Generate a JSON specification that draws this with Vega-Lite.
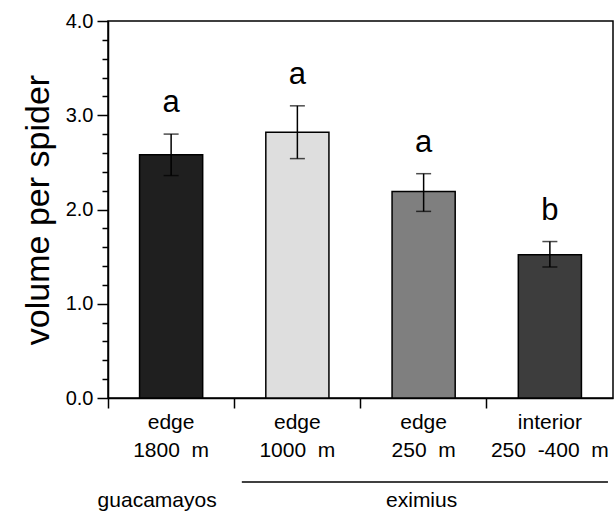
{
  "$schema": "https://vega.github.io/schema/vega-lite/v6.json",
  "autosize": {"type": "none"},
  "padding": {"left": 108, "top": 21, "right": 2, "bottom": 116},
  "width": 505,
  "height": 377,
  "config": {
    "font": "Liberation Sans",
    "view": {"stroke": "black", "strokeWidth": 1.5},
    "axis": {"grid": false, "domainColor": "black", "domainWidth": 1.5, "tickColor": "black", "tickWidth": 1.5, "labelColor": "black", "titleColor": "black", "labelOverlap": false}
  },
  "datasets": {
    "main": [
      {"site": "edge|1800\u00a0 m", "mean": 2.58, "lo": 2.36, "hi": 2.80, "letter": "a"},
      {"site": "edge|1000\u00a0 m", "mean": 2.82, "lo": 2.54, "hi": 3.10, "letter": "a"},
      {"site": "edge|250\u00a0 m", "mean": 2.19, "lo": 1.98, "hi": 2.38, "letter": "a"},
      {"site": "interior|250\u00a0 -400\u00a0 m", "mean": 1.52, "lo": 1.39, "hi": 1.66, "letter": "b"}
    ],
    "group1": [
      {"site": "edge|1800\u00a0 m", "group": "guacamayos"}
    ],
    "group2": [
      {"site": "edge|250\u00a0 m", "group": "eximius"}
    ],
    "span": [
      {"start": "edge|1000\u00a0 m", "end": "interior|250\u00a0 -400\u00a0 m"}
    ]
  },
  "resolve": {"axis": {"y": "independent"}},
  "layer": [
    {
      "data": {"name": "main"},
      "mark": {"type": "bar", "stroke": "black", "strokeWidth": 1.5, "width": {"band": 0.5}},
      "encoding": {
        "x": {
          "field": "site", "type": "nominal", "sort": null,
          "scale": {"paddingInner": 0, "paddingOuter": 0},
          "axis": {
            "title": null, "labelAngle": 0, "bandPosition": 0,
            "tickSize": 10, "labelFontSize": 21, "labelLineHeight": 28,
            "labelPadding": 3, "labelExpr": "split(datum.label, '|')"
          }
        },
        "y": {
          "field": "mean", "type": "quantitative",
          "scale": {"domain": [0, 4], "nice": false},
          "axis": {
            "orient": "left",
            "title": "volume per spider", "titleFontSize": 34, "titleFontWeight": "normal", "titlePadding": 10,
            "values": [0, 1, 2, 3, 4], "format": ".1f",
            "tickSize": 11, "labelFontSize": 20, "labelPadding": 4
          }
        },
        "color": {
          "field": "site", "type": "nominal", "sort": null, "legend": null,
          "scale": {"range": ["#1f1f1f", "#dedede", "#7f7f7f", "#3d3d3d"]}
        }
      }
    },
    {
      "data": {"name": "main"},
      "mark": {"type": "rule", "color": "black", "strokeWidth": 1.5},
      "encoding": {
        "x": {"field": "site", "type": "nominal", "sort": null},
        "y": {
          "field": "lo", "type": "quantitative",
          "axis": {
            "orient": "left", "title": null, "labels": false, "domain": false,
            "values": [0.2, 0.4, 0.6, 0.8, 1.2, 1.4, 1.6, 1.8, 2.2, 2.4, 2.6, 2.8, 3.2, 3.4, 3.6, 3.8],
            "tickSize": 6
          }
        },
        "y2": {"field": "hi"}
      }
    },
    {
      "data": {"name": "main"},
      "mark": {"type": "tick", "orient": "horizontal", "size": 15, "thickness": 1.5, "color": "black"},
      "encoding": {
        "x": {"field": "site", "type": "nominal", "sort": null},
        "y": {"field": "lo", "type": "quantitative", "axis": null}
      }
    },
    {
      "data": {"name": "main"},
      "mark": {"type": "tick", "orient": "horizontal", "size": 15, "thickness": 1.5, "color": "black"},
      "encoding": {
        "x": {"field": "site", "type": "nominal", "sort": null},
        "y": {"field": "hi", "type": "quantitative", "axis": null}
      }
    },
    {
      "data": {"name": "main"},
      "mark": {"type": "text", "fontSize": 31, "baseline": "alphabetic", "dy": -22, "color": "black"},
      "encoding": {
        "x": {"field": "site", "type": "nominal", "sort": null},
        "y": {"field": "hi", "type": "quantitative", "axis": null},
        "text": {"field": "letter"}
      }
    },
    {
      "data": {"name": "group1"},
      "mark": {"type": "text", "fontSize": 21, "baseline": "alphabetic", "color": "black", "dx": -14},
      "encoding": {
        "x": {"field": "site", "type": "nominal", "sort": null},
        "y": {"datum": -1.16, "type": "quantitative", "axis": null},
        "text": {"field": "group"}
      }
    },
    {
      "data": {"name": "group2"},
      "mark": {"type": "text", "fontSize": 21, "baseline": "alphabetic", "color": "black", "dx": -2},
      "encoding": {
        "x": {"field": "site", "type": "nominal", "sort": null},
        "y": {"datum": -1.16, "type": "quantitative", "axis": null},
        "text": {"field": "group"}
      }
    },
    {
      "data": {"name": "span"},
      "mark": {"type": "rule", "color": "black", "strokeWidth": 1.5},
      "encoding": {
        "x": {"field": "start", "type": "nominal", "sort": null, "bandPosition": 0.06},
        "x2": {"field": "end", "bandPosition": 0.96},
        "y": {"datum": -0.89, "type": "quantitative", "axis": null}
      }
    }
  ]
}
